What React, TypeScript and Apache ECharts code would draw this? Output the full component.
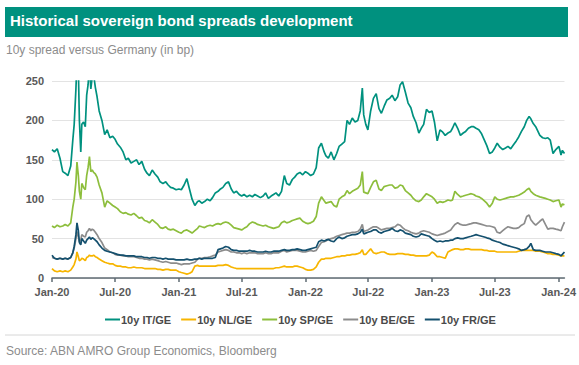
import React, { useEffect, useRef } from "react";
import * as echarts from "echarts";

const dates = [
  "2020-01-01","2020-01-08","2020-01-16","2020-01-24","2020-02-01","2020-02-08","2020-02-16","2020-02-24",
  "2020-03-01","2020-03-05","2020-03-10","2020-03-13","2020-03-17","2020-03-20","2020-03-24","2020-03-27",
  "2020-04-01","2020-04-06","2020-04-10","2020-04-14","2020-04-18","2020-04-22","2020-04-26","2020-04-30",
  "2020-05-05","2020-05-10","2020-05-16","2020-05-24","2020-06-01","2020-06-08","2020-06-16","2020-06-24",
  "2020-07-01","2020-07-08","2020-07-16","2020-07-24","2020-08-01","2020-08-08","2020-08-16","2020-08-24",
  "2020-09-01","2020-09-08","2020-09-16","2020-09-24","2020-10-01","2020-10-08","2020-10-16","2020-10-24",
  "2020-11-01","2020-11-08","2020-11-16","2020-11-24","2020-12-01","2020-12-08","2020-12-16","2020-12-24",
  "2021-01-01","2021-01-08","2021-01-16","2021-01-24","2021-02-01","2021-02-08","2021-02-16","2021-02-24",
  "2021-03-01","2021-03-08","2021-03-16","2021-03-24","2021-04-01","2021-04-08","2021-04-16","2021-04-24",
  "2021-05-01","2021-05-08","2021-05-16","2021-05-24","2021-06-01","2021-06-08","2021-06-16","2021-06-24",
  "2021-07-01","2021-07-08","2021-07-16","2021-07-24","2021-08-01","2021-08-08","2021-08-16","2021-08-24",
  "2021-09-01","2021-09-08","2021-09-16","2021-09-24","2021-10-01","2021-10-08","2021-10-16","2021-10-24",
  "2021-11-01","2021-11-08","2021-11-16","2021-11-24","2021-12-01","2021-12-08","2021-12-16","2021-12-24",
  "2022-01-01","2022-01-08","2022-01-16","2022-01-24","2022-02-01","2022-02-08","2022-02-16","2022-02-24",
  "2022-03-01","2022-03-08","2022-03-16","2022-03-24","2022-04-01","2022-04-08","2022-04-16","2022-04-24",
  "2022-05-01","2022-05-08","2022-05-16","2022-05-24","2022-06-01","2022-06-08","2022-06-14","2022-06-18",
  "2022-06-24","2022-06-30","2022-07-08","2022-07-16","2022-07-24","2022-08-01","2022-08-08","2022-08-16",
  "2022-08-24","2022-09-01","2022-09-08","2022-09-16","2022-09-24","2022-10-01","2022-10-08","2022-10-16",
  "2022-10-24","2022-11-01","2022-11-08","2022-11-16","2022-11-24","2022-12-01","2022-12-08","2022-12-16",
  "2022-12-24",
  "2023-01-01","2023-01-08","2023-01-16","2023-01-24","2023-02-01","2023-02-08","2023-02-16","2023-02-24",
  "2023-03-01","2023-03-08","2023-03-16","2023-03-24","2023-04-01","2023-04-08","2023-04-16","2023-04-24",
  "2023-05-01","2023-05-08","2023-05-16","2023-05-24","2023-06-01","2023-06-08","2023-06-16","2023-06-24",
  "2023-07-01","2023-07-08","2023-07-16","2023-07-24","2023-08-01","2023-08-08","2023-08-16","2023-08-24",
  "2023-09-01","2023-09-08","2023-09-16","2023-09-24","2023-10-01","2023-10-08","2023-10-13","2023-10-20",
  "2023-10-27","2023-11-08","2023-11-16","2023-11-24","2023-12-01","2023-12-08","2023-12-16","2023-12-24",
  "2024-01-02","2024-01-08","2024-01-12","2024-01-18",
];

const itGe = [
  163,160,164,152,135,133,130,142,175,195,240,275,265,200,160,195,
  198,192,232,245,270,240,255,258,242,230,212,200,182,188,178,180,
  176,170,166,160,150,152,146,148,150,144,148,138,133,130,137,132,
  128,122,120,122,118,115,114,112,
  113,112,118,126,112,100,92,97,98,95,97,100,98,102,108,110,
  113,115,120,122,113,108,110,106,104,106,103,105,103,106,104,102,
  104,108,101,104,106,108,104,110,130,120,118,125,128,132,134,131,
  135,133,130,132,140,165,171,160,155,152,160,150,158,167,170,173,
  200,195,203,198,200,212,241,207,195,188,212,228,234,215,209,218,
  226,228,232,225,230,245,249,236,222,216,205,197,184,190,195,214,
  210,
  212,198,174,188,185,181,184,186,190,197,190,181,184,186,190,192,
  192,190,188,183,175,168,158,160,165,171,166,163,165,167,164,169,
  174,179,186,192,200,205,202,196,192,181,178,177,178,175,158,163,
  167,156,162,158,
];

const nlGe = [
  12,9,8,9,8,9,8,10,14,17,24,33,27,22,23,25,
  24,22,26,27,29,28,28,29,27,26,24,22,20,19,18,18,
  16,15,15,14,14,13,13,14,13,13,13,12,12,12,12,12,
  11,11,10,11,11,10,10,10,
  8,7,6,5,6,8,15,16,15,15,15,15,15,15,15,16,
  16,16,17,16,14,13,12,12,12,12,12,12,12,12,12,12,
  12,12,12,12,12,13,13,14,15,14,14,14,15,15,14,13,
  11,10,10,11,14,20,24,24,25,25,25,26,27,27,28,28,
  29,29,30,30,31,32,36,30,30,33,37,32,31,32,33,33,
  31,30,30,30,31,31,31,30,30,29,29,28,28,28,28,28,
  29,
  33,31,27,27,26,25,33,35,36,37,37,36,36,37,37,36,
  36,36,36,36,35,35,34,34,34,33,33,33,33,33,33,33,
  33,34,35,35,35,35,35,35,34,34,33,32,31,31,30,30,
  29,28,28,28,
];

const spGe = [
  66,64,67,65,66,68,66,70,90,100,122,147,130,110,100,120,
  115,112,130,140,154,135,137,134,132,128,118,108,90,98,95,92,
  90,88,84,82,83,81,80,82,79,76,77,73,72,70,74,71,
  68,64,63,65,62,61,62,60,
  58,57,60,61,59,57,60,63,66,65,64,66,67,66,68,69,
  68,70,71,70,67,64,63,62,61,63,65,69,71,70,68,67,
  66,67,65,64,63,64,65,70,72,70,71,73,74,75,76,72,
  70,69,70,72,78,95,103,98,95,96,97,92,90,100,103,105,
  111,107,110,112,114,118,135,109,108,107,115,122,124,113,111,116,
  117,118,118,114,115,118,117,111,108,105,101,98,97,99,103,107,
  105,
  103,100,95,97,96,97,99,98,99,110,106,103,104,105,106,107,
  106,104,103,101,98,95,90,95,103,100,99,100,101,102,103,103,
  104,105,107,109,112,114,110,107,105,103,102,101,100,99,97,98,
  99,90,94,93,
];

const beGe = [
  26,25,24,25,24,25,24,26,32,38,50,59,52,46,48,55,
  53,52,58,60,63,60,62,61,58,55,50,45,38,36,33,32,
  30,29,29,28,28,27,27,27,26,25,25,24,24,23,24,23,
  22,21,20,21,20,19,19,19,
  18,17,18,18,18,19,20,24,25,25,26,26,27,28,29,33,
  34,35,36,35,33,33,32,32,31,32,31,32,32,32,31,31,
  31,32,31,31,32,32,32,34,35,33,34,35,35,35,34,33,
  33,34,35,34,35,40,45,46,47,49,50,51,53,54,55,56,
  57,57,58,58,59,62,68,59,60,61,63,65,65,63,61,62,
  63,63,64,65,68,67,64,61,60,58,57,56,57,59,60,59,
  58,
  56,55,54,55,56,57,59,61,64,68,70,68,67,67,68,69,
  70,70,69,68,67,66,66,65,64,58,57,60,63,65,64,63,
  63,64,67,69,78,80,74,70,67,72,75,68,62,63,63,62,
  61,60,65,71,
];

const frGe = [
  29,25,24,25,24,25,24,26,32,40,55,70,60,45,42,50,
  47,44,48,50,52,49,51,50,48,46,42,38,35,34,33,32,
  31,30,29,29,28,28,28,28,27,27,27,26,26,25,26,26,
  25,25,24,25,24,24,24,23,
  23,23,23,24,23,23,24,24,25,24,25,25,25,25,26,36,
  37,38,40,39,36,35,35,34,34,34,34,35,34,34,33,33,
  33,34,33,33,34,34,34,35,36,35,35,36,36,37,36,35,
  35,36,37,38,39,46,48,47,48,49,47,46,50,52,50,51,
  53,54,55,55,56,58,62,56,57,58,59,61,61,58,57,59,
  60,61,63,60,59,61,60,57,56,55,53,52,53,56,55,54,
  53,
  50,48,46,47,46,47,47,48,48,50,51,50,50,51,52,53,
  54,55,54,53,52,51,50,48,47,46,45,43,42,41,40,39,
  38,37,35,36,37,40,44,36,35,35,34,33,33,33,32,31,
  30,28,30,33,
];

const seriesNames = ["10y IT/GE", "10y NL/GE", "10y SP/GE", "10y BE/GE", "10y FR/GE"];
const seriesColors = ["#00917F", "#F7B500", "#8DBE3C", "#8C8C8C", "#14506E"];
const yTicks = [0, 50, 100, 150, 200, 250];
const startDate = "2020-01-01";
const endDate = "2024-01-18";

const MONTHS = ["Jan","Feb","Mar","Apr","May","Jun","Jul","Aug","Sep","Oct","Nov","Dec"];
const FONT = "'Liberation Sans', Arial, sans-serif";

function buildCalendar(): string[] {
  const out: string[] = [];
  const s = Date.parse(startDate + "T00:00:00Z");
  const e = Date.parse(endDate + "T00:00:00Z");
  for (let t = s; t <= e; t += 86400000) {
    out.push(new Date(t).toISOString().slice(0, 10));
  }
  return out;
}

const isHalfYear = (v: string) => v.endsWith("-01-01") || v.endsWith("-07-01");

export default function App() {
  const ref = useRef<HTMLDivElement>(null);
  useEffect(() => {
    if (!ref.current) return;
    const chart = echarts.init(ref.current, null, { renderer: "svg" });
    const calendar = buildCalendar();
    const allSeries = [itGe, nlGe, spGe, beGe, frGe];
    chart.setOption({
      animation: false,
      backgroundColor: "#ffffff",
      textStyle: { fontFamily: FONT },
      grid: { left: 52, right: 13, top: 81, bottom: 87 },
      legend: {
        data: seriesNames,
        left: 100,
        top: 309,
        icon: "rect",
        itemWidth: 15,
        itemHeight: 2,
        itemGap: 10,
        textStyle: { fontFamily: FONT, fontSize: 11, fontWeight: "bold", color: "#4a4a4a", padding: [0, 0, 0, -4] },
      },
      xAxis: {
        type: "category",
        data: calendar,
        boundaryGap: false,
        axisLine: { lineStyle: { color: "#5f6b73", width: 1.5 } },
        axisTick: {
          show: true,
          length: 4,
          interval: (_i: number, v: string) => isHalfYear(v),
          lineStyle: { color: "#5f6b73", width: 1.5 },
        },
        axisLabel: {
          interval: (_i: number, v: string) => isHalfYear(v),
          formatter: (v: string) => MONTHS[parseInt(v.slice(5, 7), 10) - 1] + "-" + v.slice(2, 4),
          color: "#595959",
          fontWeight: "bold",
          fontSize: 11,
          fontFamily: FONT,
          margin: 8,
          hideOverlap: false,
        },
        splitLine: { show: false },
      },
      yAxis: {
        type: "value",
        min: yTicks[0],
        max: yTicks[yTicks.length - 1],
        interval: 50,
        axisLine: { show: false },
        axisTick: { show: false },
        axisLabel: { color: "#595959", fontWeight: "bold", fontSize: 11, fontFamily: FONT, margin: 8 },
        splitLine: { lineStyle: { color: "#e3e3e3", width: 1 } },
      },
      series: seriesNames.map((name, k) => ({
        name,
        type: "line",
        showSymbol: false,
        symbol: "none",
        clip: true,
        color: seriesColors[k],
        lineStyle: { width: 1.7, color: seriesColors[k] },
        data: dates.map((d, i) => [d, allSeries[k][i]]),
      })),
      graphic: [
        { type: "rect", left: 5, top: 7, shape: { width: 563, height: 30 }, style: { fill: "#00917F" } },
        {
          type: "text", left: 10, top: 13,
          style: { text: "Historical sovereign bond spreads development", fill: "#ffffff", font: "bold 15px " + FONT },
        },
        {
          type: "text", left: 6, top: 44,
          style: { text: "10y spread versus Germany (in bp)", fill: "#8c8c8c", font: "12px " + FONT },
        },
        { type: "line", shape: { x1: 5, y1: 335, x2: 575, y2: 335 }, style: { stroke: "#d6d6d6", lineWidth: 1 } },
        {
          type: "text", left: 6, top: 345,
          style: { text: "Source: ABN AMRO Group Economics, Bloomberg", fill: "#8c8c8c", font: "12px " + FONT },
        },
      ],
    });
    return () => chart.dispose();
  }, []);
  return <div ref={ref} style={{ position: "fixed", left: 0, top: 0, width: 579, height: 365 }} />;
}
